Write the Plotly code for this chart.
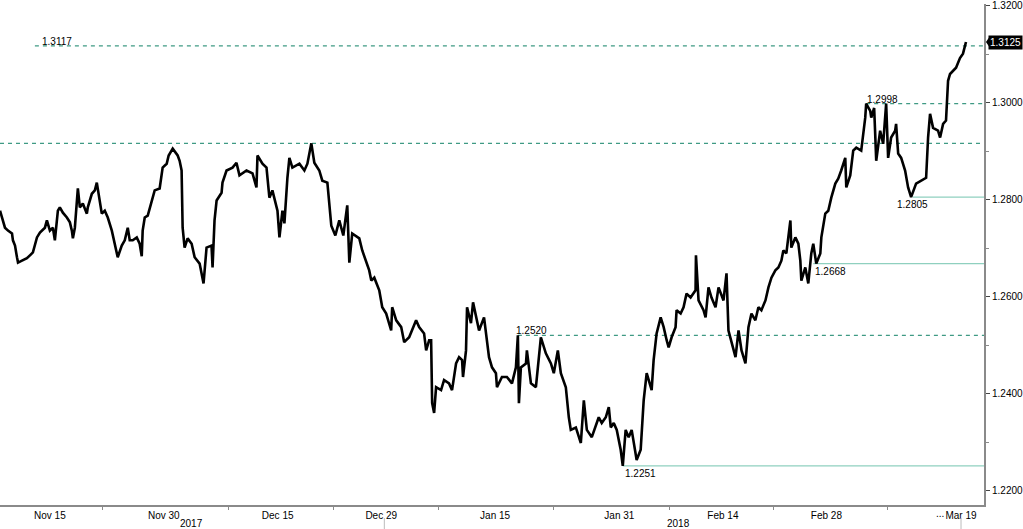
import plotly.graph_objects as go

# ---- price series (trading days since 15 Nov 2017, price) ----
days = [-4.82, -4.34, -4.05, -3.66, -3.57, -3.37, -3.18, -3.08, -2.70, -2.22, -1.93, -1.64, -1.25, -0.96,
        -0.48, -0.29, 0.00, 0.29, 0.48, 0.77, 0.96, 1.25, 1.64, 1.93, 2.12, 2.22, 2.41, 2.70, 2.89, 3.18,
        3.57, 3.66, 4.05, 4.34, 4.53, 4.82, 5.01, 5.30, 5.59, 5.98, 6.27, 6.55, 6.94, 7.23, 7.52, 7.71,
        8.00, 8.39, 8.67, 8.87, 8.96, 9.16, 9.45, 9.83, 10.12, 10.60, 10.89, 11.28, 11.47, 11.86, 12.34,
        12.53, 12.72, 12.82, 13.01, 13.30, 13.69, 13.98, 14.46, 14.84, 15.13, 15.61, 15.71, 15.90, 16.10,
        16.58, 16.67, 17.06, 17.64, 18.02, 18.31, 18.99, 19.57, 19.95, 20.05, 20.53, 20.92, 21.20, 21.49,
        21.98, 22.17, 22.46, 22.65, 22.94, 23.13, 23.42, 24.10, 24.58, 24.87, 25.25, 25.54, 26.02, 26.31,
        26.80, 27.18, 27.57, 27.95, 28.34, 28.72, 28.92, 29.20, 29.88, 30.17, 30.84, 31.04, 31.33, 31.81,
        32.10, 32.48, 32.96, 33.06, 33.45, 33.93, 34.22, 34.70, 35.37, 35.66, 36.14, 36.34, 36.63, 36.82,
        36.92, 37.11, 37.30, 37.78, 38.07, 38.55, 38.84, 39.23, 39.52, 39.81, 39.90, 40.19, 40.29, 40.67,
        40.87, 41.16, 41.45, 41.93, 42.12, 42.41, 42.70, 43.08, 43.18, 43.66, 44.14, 44.63, 45.01, 45.20,
        45.30, 45.49, 45.98, 46.07, 46.46, 46.94, 47.23, 47.42, 47.90, 48.39, 48.67, 49.06, 49.35, 49.83,
        50.12, 50.31, 50.80, 51.28, 51.57, 51.86, 52.34, 53.01, 53.30, 53.69, 53.98, 54.17, 54.46, 54.75,
        55.13, 55.33, 55.61, 55.90, 56.19, 56.58, 56.67, 57.06, 57.16, 57.35, 57.64, 58.02, 58.12, 58.31,
        58.60, 58.99, 59.28, 59.57, 59.76, 60.05, 60.43, 60.53, 60.92, 61.20, 61.49, 61.88, 62.36, 62.40,
        62.65, 63.13, 63.33, 63.61, 63.90, 64.29, 64.58, 65.06, 65.35, 65.54, 65.83, 66.22, 66.51, 66.80,
        67.18, 67.47, 67.76, 68.14, 68.43, 68.72, 69.11, 69.40, 69.69, 70.07, 70.36, 70.65, 70.84, 71.13,
        71.52, 71.61, 72.00, 72.29, 72.48, 72.58, 72.96, 73.25, 73.54, 73.73, 74.02, 74.41, 74.51, 74.89,
        75.18, 75.47, 75.86, 76.14, 76.43, 76.82, 76.92, 77.30, 77.59, 77.88, 78.36, 78.75, 78.84, 79.23,
        79.33, 79.61, 79.71, 79.81, 80.19, 80.48, 80.77, 80.96, 81.25, 81.64, 81.73, 81.93, 82.22, 82.60,
        82.89, 83.18, 83.66, 84.14, 84.63, 84.82, 85.01, 85.30, 85.78, 85.98, 86.27, 86.55, 86.75, 86.94,
        87.23, 87.52, 87.90, 88.19, 88.48]

prices = [1.2777, 1.2742, 1.2736, 1.2730, 1.2716, 1.2705, 1.2681, 1.2670, 1.2674, 1.2679, 1.2685, 1.2691,
          1.2722, 1.2732, 1.2742, 1.2757, 1.2736, 1.2742, 1.2716, 1.2777, 1.2784, 1.2773, 1.2763, 1.2753,
          1.2736, 1.2720, 1.2742, 1.2823, 1.2784, 1.2792, 1.2771, 1.2784, 1.2812, 1.2819, 1.2835, 1.2798,
          1.2771, 1.2777, 1.2763, 1.2736, 1.2709, 1.2681, 1.2705, 1.2716, 1.2742, 1.2716, 1.2716, 1.2722,
          1.2709, 1.2683, 1.2736, 1.2763, 1.2767, 1.2798, 1.2819, 1.2823, 1.2866, 1.2874, 1.2891, 1.2905,
          1.2891, 1.2880, 1.2860, 1.2742, 1.2701, 1.2720, 1.2709, 1.2681, 1.2668, 1.2627, 1.2701, 1.2705,
          1.2660, 1.2757, 1.2798, 1.2814, 1.2835, 1.2860, 1.2866, 1.2876, 1.2850, 1.2860, 1.2854, 1.2825,
          1.2891, 1.2874, 1.2866, 1.2804, 1.2819, 1.2777, 1.2722, 1.2777, 1.2751, 1.2845, 1.2886, 1.2866,
          1.2874, 1.2860, 1.2874, 1.2916, 1.2876, 1.2860, 1.2839, 1.2835, 1.2746, 1.2726, 1.2757, 1.2726,
          1.2788, 1.2670, 1.2730, 1.2720, 1.2695, 1.2654, 1.2633, 1.2639, 1.2613, 1.2578, 1.2565, 1.2530,
          1.2578, 1.2551, 1.2537, 1.2506, 1.2516, 1.2551, 1.2537, 1.2524, 1.2489, 1.2510, 1.2510, 1.2380,
          1.2360, 1.2413, 1.2407, 1.2428, 1.2421, 1.2407, 1.2462, 1.2475, 1.2469, 1.2434, 1.2489, 1.2578,
          1.2545, 1.2588, 1.2557, 1.2530, 1.2557, 1.2524, 1.2475, 1.2454, 1.2442, 1.2413, 1.2434, 1.2434,
          1.2421, 1.2454, 1.2520, 1.2380, 1.2454, 1.2462, 1.2489, 1.2421, 1.2413, 1.2475, 1.2516, 1.2483,
          1.2462, 1.2442, 1.2489, 1.2442, 1.2413, 1.2351, 1.2325, 1.2330, 1.2298, 1.2386, 1.2325, 1.2310,
          1.2351, 1.2339, 1.2351, 1.2372, 1.2330, 1.2339, 1.2325, 1.2284, 1.2251, 1.2325, 1.2310, 1.2325,
          1.2277, 1.2263, 1.2284, 1.2325, 1.2386, 1.2442, 1.2413, 1.2407, 1.2469, 1.2524, 1.2557, 1.2537,
          1.2510, 1.2495, 1.2516, 1.2537, 1.2572, 1.2565, 1.2578, 1.2606, 1.2598, 1.2613, 1.2685, 1.2592,
          1.2572, 1.2557, 1.2619, 1.2598, 1.2578, 1.2619, 1.2592, 1.2648, 1.2530, 1.2504, 1.2475, 1.2530,
          1.2489, 1.2462, 1.2537, 1.2565, 1.2551, 1.2578, 1.2572, 1.2592, 1.2619, 1.2639, 1.2654, 1.2660,
          1.2674, 1.2695, 1.2689, 1.2757, 1.2701, 1.2722, 1.2709, 1.2674, 1.2633, 1.2660, 1.2627, 1.2689,
          1.2709, 1.2668, 1.2689, 1.2722, 1.2771, 1.2777, 1.2804, 1.2833, 1.2843, 1.2860, 1.2886, 1.2825,
          1.2850, 1.2901, 1.2907, 1.2901, 1.2969, 1.2998, 1.2983, 1.2969, 1.2989, 1.2936, 1.2880, 1.2942,
          1.2915, 1.2998, 1.2886, 1.2928, 1.2942, 1.2956, 1.2895, 1.2886, 1.2860, 1.2825, 1.2805, 1.2833,
          1.2839, 1.2845, 1.2928, 1.2977, 1.2948, 1.2942, 1.2928, 1.2956, 1.2963, 1.3045, 1.3059, 1.3066,
          1.3072, 1.3092, 1.3101, 1.3125]

# ---- axis labels ----
date_ticks = [0, 11, 22, 32, 43, 55, 65, 75, 88]
date_labels = ["Nov 15", "Nov 30", "Dec 15", "Dec 29", "Jan 15", "Jan 31", "Feb 14", "Feb 28", "Mar 19"]
minor_day_ticks = [5.1, 17.25, 27.4, 37.5, 48.6, 59.8, 69.9, 80.9]
year_labels = ["2017", "2018"]
year_centers = [13.7, 60.7]
year_breaks = [32.3, 88.0]
price_ticks = [1.22, 1.24, 1.26, 1.28, 1.30, 1.32]
price_minor = [1.23, 1.25, 1.27, 1.29, 1.31]

# ---- horizontal levels ----
level_values = [1.3117, 1.2998, 1.2916, 1.2805, 1.2668, 1.2520, 1.2251]
level_starts = [-1.45, 78.84, -4.82, 83.35, 73.73, 45.2, 55.33]
level_dashed = [True, True, True, False, False, True, False]
level_labeled = [True, True, False, True, True, True, True]
last_price = 1.3125

X_MIN, X_MAX = -4.82, 90.22
Y_MIN, Y_MAX = 1.21701, 1.32034

FONT = "Liberation Sans, Arial, sans-serif"
TXT = "#000000"
FS = 10
DASH_COL = "#3f9a84"
SOLID_COL = "#8fd0bf"
AXIS_COL = "#8a8a8a"

fig = go.Figure()
fig.add_trace(go.Scatter(x=days, y=prices, mode="lines",
                         line=dict(color="#000000", width=2.6), hoverinfo="skip",
                         showlegend=False, cliponaxis=False))

shapes = []
annotations = []
for v, s, dashed, lab in zip(level_values, level_starts, level_dashed, level_labeled):
    shapes.append(dict(type="line", xref="x", yref="y", x0=s, x1=X_MAX, y0=v, y1=v,
                       line=dict(color=DASH_COL if dashed else SOLID_COL, width=1.3,
                                 dash="4px,4px" if dashed else "solid"), layer="below"))
    if lab:
        if dashed:
            xshift = 5 if v > 1.31 else (-4 if v < 1.26 else -1)
            annotations.append(dict(x=s, y=v, xref="x", yref="y", text=f"{v:.4f}",
                                    showarrow=False, xanchor="left", yanchor="bottom",
                                    xshift=xshift, yshift=-3,
                                    font=dict(family=FONT, size=FS, color=TXT)))
        else:
            xanchor = "center" if abs(v - 1.2805) < 1e-6 else "left"
            annotations.append(dict(x=s, y=v, xref="x", yref="y", text=f"{v:.4f}",
                                    showarrow=False, xanchor=xanchor, yanchor="top",
                                    yshift=0, xshift=0,
                                    font=dict(family=FONT, size=FS, color=TXT)))

# last price tag
annotations.append(dict(x=1, y=last_price, xref="paper", yref="y", text=f"{last_price:.4f}",
                        showarrow=False, xanchor="left", yanchor="middle", xshift=4,
                        bgcolor="#000000", borderpad=1,
                        font=dict(family=FONT, size=FS, color="#ffffff")))
shapes.append(dict(type="path", xref="paper", yref="y",
                   path=f"M 1.0020 {last_price} L 1.0060 {last_price + 0.0012} L 1.0060 {last_price - 0.0012} Z",
                   fillcolor="#000000", line=dict(width=0)))

# year row
for lbl, c in zip(year_labels, year_centers):
    annotations.append(dict(x=c, y=-0.036, xref="x", yref="paper", text=lbl, showarrow=False,
                            xanchor="center", yanchor="middle",
                            font=dict(family=FONT, size=FS, color=TXT)))
for b in year_breaks:
    shapes.append(dict(type="line", xref="x", yref="paper", x0=b, x1=b, y0=-0.026, y1=-0.05,
                       line=dict(color="#bbbbbb", width=1)))
annotations.append(dict(x=date_ticks[-1], y=-0.0165, xref="x", yref="paper", text="...",
                        showarrow=False, xanchor="right", yanchor="middle", xshift=-15,
                        font=dict(family=FONT, size=FS, color=TXT)))

fig.update_layout(
    width=1023, height=529,
    margin=dict(l=0, r=37, t=3, b=24),
    paper_bgcolor="#ffffff", plot_bgcolor="#ffffff",
    shapes=shapes, annotations=annotations,
    showlegend=False,
    xaxis=dict(range=[X_MIN, X_MAX], tickmode="array", tickvals=date_ticks, ticktext=date_labels,
               showgrid=False, zeroline=False, showline=True, linecolor=AXIS_COL, linewidth=1.5,
               ticks="", tickfont=dict(family=FONT, size=FS, color=TXT),
               ticklabeloverflow="allow",
               minor=dict(tickmode="array", tickvals=minor_day_ticks, ticks="outside",
                          ticklen=3, tickcolor=AXIS_COL, showgrid=False)),
    yaxis=dict(range=[Y_MIN, Y_MAX], side="right", tickmode="array", tickvals=price_ticks,
               ticktext=[f"{p:.4f}" for p in price_ticks],
               showgrid=False, zeroline=False, showline=True, linecolor=AXIS_COL, linewidth=2,
               ticks="outside", ticklen=4, tickcolor="#444444",
               ticklabeloverflow="allow",
               tickfont=dict(family=FONT, size=FS, color=TXT),
               minor=dict(tickmode="array", tickvals=price_minor, ticks="outside",
                          ticklen=3, tickcolor=AXIS_COL, showgrid=False)),
)

fig.write_html("out.html", config={"displayModeBar": False},
               post_script="document.body.style.margin='0';document.body.style.overflow='hidden';")
